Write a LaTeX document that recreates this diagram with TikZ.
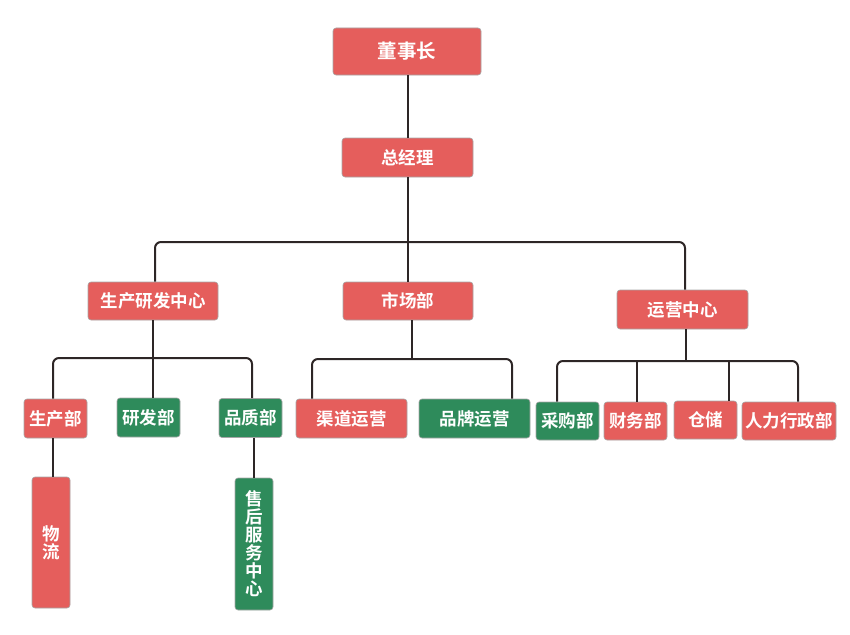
\documentclass[tikz,border=0pt]{standalone}
\usepackage{fontspec}
\newfontfamily\cjk{Noto Sans CJK SC}[BoldFont={Noto Sans CJK SC Bold}]
\usetikzlibrary{positioning,calc}
\definecolor{boxred}{HTML}{E55E5C}
\definecolor{boxgreen}{HTML}{2E8B5B}
\definecolor{linedark}{HTML}{2D2626}
\tikzset{
  unit/.style ={rectangle, rounded corners=3pt, draw=black!35, line width=0.6pt, text=white, inner sep=0pt, font=\cjk\bfseries\fontsize{17.5}{18}\selectfont},
  rbox/.style ={unit, fill=boxred},
  gbox/.style ={unit, fill=boxgreen},
  vbox/.style ={align=center, minimum width=38pt},
  link/.style ={draw=linedark, line width=2pt},
  bus/.style  ={link, rounded corners=6pt},
}
\begin{document}
\begin{tikzpicture}[x=1pt,y=-1pt]
\useasboundingbox (0,0) rectangle (850,634);
% top levels
\node[rbox, minimum width=148pt, minimum height=47pt, font=\cjk\bfseries\fontsize{19.5}{20}\selectfont] (ceo) at (407,51.5) {董事长};
\node[rbox, minimum width=131pt, minimum height=39pt] (gm) at (407.5,157.5) {总经理};
\node[rbox, minimum width=130pt, minimum height=38pt] (prd) at (153,301) {生产研发中心};
\node[rbox, minimum width=130pt, minimum height=38pt] (mkt) at (408,301) {市场部};
\node[rbox, minimum width=131pt, minimum height=39pt] (ops) at (682.5,309.5) {运营中心};
% production
\node[rbox, minimum width=63pt, minimum height=39pt] (scb) at (55.5,418.5) {生产部};
\node[gbox, minimum width=63pt, minimum height=39pt] (yfb) at (148.5,417.5) {研发部};
\node[gbox, minimum width=63pt, minimum height=39pt] (pzb) at (250.5,418) {品质部};
\node[rbox, vbox, minimum height=131pt] (wl) at (51,542.5) {物\\流};
\node[gbox, vbox, minimum height=132pt] (sh) at (254,544) {售\\后\\服\\务\\中\\心};
% market
\node[rbox, minimum width=111pt, minimum height=39pt] (qd) at (351.5,418.5) {渠道运营};
\node[gbox, minimum width=111pt, minimum height=39pt] (pp) at (474.5,418.5) {品牌运营};
% operations
\node[gbox, minimum width=63pt, minimum height=38pt] (cg) at (567.5,421) {采购部};
\node[rbox, minimum width=63pt, minimum height=38pt] (cw) at (635.5,421) {财务部};
\node[rbox, minimum width=63pt, minimum height=38pt] (cc) at (705.5,420) {仓储};
\node[rbox, minimum width=94pt, minimum height=38pt] (rl) at (789,421) {人力行政部};
% bus points
\coordinate (topbus) at (408,242);
\coordinate (prdbus) at (153,358);
\coordinate (mktbus) at (412,359);
\coordinate (opsbus) at (686,361);
% connectors
\draw[link] (ceo.south -| topbus) -- (gm.north -| topbus);
\draw[link] (gm.south -| topbus) -- (topbus) -- (mkt.north -| topbus);
\draw[bus] ([xshift=2pt]prd.north) |- (topbus) -| ([xshift=2.5pt]ops.north);
\draw[link] (prd.south) -- (prdbus);
\draw[bus] ([xshift=-2.5pt]scb.north) |- (prdbus) -| ([xshift=1.5pt]pzb.north);
\draw[link] (prdbus) -- (yfb.north -| prdbus);
\draw[link] ([xshift=-2.5pt]scb.south) -- ([xshift=2pt]wl.north);
\draw[link] ([xshift=3.5pt]pzb.south) -- (sh.north);
\draw[link] (mkt.south -| mktbus) -- (mktbus);
\draw[bus] ([xshift=-39.5pt]qd.north) |- (mktbus) -| ([xshift=37.5pt]pp.north);
\draw[link] (ops.south -| opsbus) -- (opsbus);
\draw[bus] ([xshift=-10.5pt]cg.north) |- (opsbus) -| ([xshift=9pt]rl.north);
\draw[link] ([xshift=1.5pt]cw.north) -- ([xshift=1.5pt]cw.north |- opsbus);
\draw[link] ([xshift=23.5pt]cc.north) -- ([xshift=23.5pt]cc.north |- opsbus);
\end{tikzpicture}
\end{document}
